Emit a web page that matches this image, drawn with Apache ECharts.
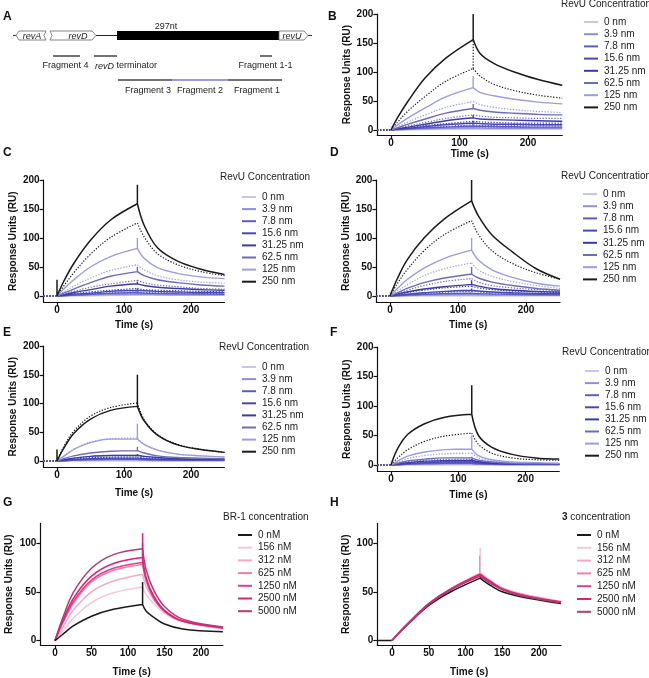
<!DOCTYPE html>
<html><head><meta charset="utf-8">
<script src="https://cdn.jsdelivr.net/npm/echarts@6/dist/echarts.min.js"></script>
<style>html,body{margin:0;padding:0;background:#fff}#c{width:649px;height:678px}</style>
</head><body><div id="c"></div>
<script>
const FONT = 'Liberation Sans, Arial, sans-serif';
// ---------- categories ----------
const revuConc = ['0 nm','3.9 nm','7.8 nm','15.6 nm','31.25 nm','62.5 nm','125 nm','250 nm'];
const revuColors = ['#c6c6ee','#8e8edc','#5c5cc8','#4646b6','#3a3aa8','#6c6cb8','#9c9ce2','#1a1a1a'];
const brConc = ['0 nM','156 nM','312 nM','625 nM','1250 nM','2500 nM','5000 nM'];
const brColors = ['#1a1a1a','#f8c6d8','#f4aac6','#f07eaa','#e63a8c','#df1f7a','#b43a72'];
// ---------- time grids (s) ----------
const timeRevU = [-20,0,10,25,50,80,120,130,150,180,215,250];
const timeBR   = [-20,0,10,25,50,80,120,125,135,150,175,230];
// ---------- tick labels ----------
const xTicksRevU = [0,100,200];
const yTicksRevU = [0,50,100,150,200];
const xTicksBR = [0,50,100,150,200];
const yTicksBR = [0,50,100];
// ---------- panel B (RU) ----------
const B_solid = [
 [null,0,0,0.5,1,1,1.5, 1,1,1,1,1],
 [null,0,0.5,1,2,3,4, 3.5,3,3,3,3],
 [null,0,1,2,3.5,5,7, 6.5,6,5.5,5,5],
 [null,0,1.5,3,6,9,12, 11,10,10,9,9],
 [null,0,2,5,10,16,21, 19,18,17,16,15],
 [null,0,4,10,19,29,37, 34,31,29,27,26],
 [null,0,9,21,38,57,73, 65,59,53,48,45],
 [null,0,22,50,90,124,156, 132,115,100,87,77]];
const B_dotted = [
 [0,0,0,0,0.5,1,1, 1,1,1,1,1],
 [0,0,0.5,1,1.5,2,3, 2.5,2.5,2.5,2,2],
 [0,0,0.5,1,2.5,3.5,5, 4.5,4,4,4,4],
 [0,0,1,2,4,6,9, 8,7.5,7,7,7],
 [0,0,1.5,4,7.5,11,15, 14,13,12,12,12],
 [0,0,3,7,13,20,26, 24,22,21,20,20],
 [0,0,6,14,26,39,49, 44,39,35,32,30],
 [0,0,14,33,58,84,106, 93,79,68,60,55]];
const B_spike = [null,null,null,14,26,45,93,200];
const B_dotSpike = [null,null,null,null,null,null,null,155];
const B_startSpike = [15,null,null,null,null,null,null,null];
// ---------- panel C ----------
const C_solid = [
 [null,0,0,0.5,0.5,1,1, 1,1,1,1,1],
 [null,0,0.5,1,2,2.5,3, 3,2.5,2,2,2],
 [null,0,0.5,1.5,3,4.5,6, 5,4.5,4,3.5,3],
 [null,0,1,3,5,8,10, 9,8,7,6,6],
 [null,0,2,6,11,17,21, 18,15,13,11,10],
 [null,0,5,12,23,34,42, 35,28,23,19,17],
 [null,0,12,28,50,68,82, 65,49,39,33,30],
 [null,0,25,56,96,131,159, 122,83,60,46,37]];
const C_dotted = [
 [0,0,0,0,0.5,0.5,1, 1,1,1,1,1],
 [0,0,0.5,1,1.5,2,2, 2,2,1.5,1.5,1.5],
 [0,0,0.5,1,2,3,4, 3.5,3,3,2.5,2.5],
 [0,0,1,2,4,5.5,7, 6,5.5,5,4.5,4],
 [0,0,1.5,4,7,10,13, 11,10,9,8,7],
 [0,0,3,8,15,21,27, 23,19,16,13,12],
 [0,0,7,17,31,44,54, 45,35,28,24,22],
 [0,0,17,40,72,101,126, 102,73,54,42,35]];
const C_spike = [null,null,null,13,25,50,100,192];
const C_dotSpike = [null,null,null,null,null,null,null,null];
const C_startSpike = [null,null,null,null,null,null,null,28];
// ---------- panel D ----------
const D_solid = [
 [null,0,0,0.2,0.3,0.4,0.5, 0.4,0.3,0.3,0.3,0.3],
 [null,0,0.3,0.8,1.5,2,2.5, 2,1.5,1.5,1,1],
 [null,0,0.5,1.5,3,4,5, 4,3.5,3,2.5,2],
 [null,0,1,3,5.5,8,10, 8.5,7,5.5,4.5,4],
 [null,0,3,7,12,16,20, 17,13,10,8,7],
 [null,0,5,13,23,31,38, 31,24,18,13,10],
 [null,0,12,28,48,65,79, 62,45,32,22,17],
 [null,0,28,62,100,133,164, 138,105,76,47,29]];
const D_dotted = [
 [0,0,0,0,0,0,0.5, 0,0,0,0,0],
 [0,0,0.3,0.5,1,1.5,2, 1.5,1.5,1,1,1],
 [0,0,0.5,1,2.5,3.5,4, 3.5,3,2.5,2,2],
 [0,0,1,2.5,4.5,6.5,8, 7,5.5,4.5,3.5,3],
 [0,0,2,6,10,14,17, 14,11,8.5,7,6],
 [0,0,4,10,18,25,30, 24,18,14,11,9],
 [0,0,8,19,35,47,57, 45,34,25,18,13],
 [0,0,20,45,78,106,130, 106,78,56,40,29]];
const D_spike = [null,null,null,13,27,50,100,200];
const D_dotSpike = [null,null,null,null,null,null,null,null];
const D_startSpike = [10,null,null,null,null,null,null,null];
// ---------- panel E ----------
const E_solid = [
 [null,0,0,0.3,0.5,0.5,0.5, 0.5,0.5,0.5,0.5,0.5],
 [null,0,0.5,1,1.5,2,2, 1.5,1,1,1,1],
 [null,0,0.5,1.5,2.5,3,3, 2.5,2,1.5,1.5,1.5],
 [null,0,1,2.5,4,5,5, 4,3,2.5,2,2],
 [null,0,2,5,8,9.5,10, 8,6,4,3,3],
 [null,0,4,9,14,17,18, 14,9,6,5,4],
 [null,0,8,20,32,38,38, 29,19,12,9,7],
 [null,0,22,48,73,88,95, 70,45,28,20,15]];
const E_dotted = [
 [0,0,0,0,0.3,0.3,0.3, 0.3,0.3,0.3,0.3,0.3],
 [0,0,0.3,0.5,1,1,1, 1,0.5,0.5,0.5,0.5],
 [0,0,0.5,1,1.5,2,2, 1.5,1.5,1,1,1],
 [0,0,0.5,1.5,3,4,4, 3,2.5,2,1.5,1.5],
 [0,0,1,3,5.5,6.5,7, 5.5,4,3,2.5,2],
 [0,0,2,5,8,10,10, 8,6,4,3,3],
 [0,0,9,21,33,39,40, 29,19,12,9,7],
 [0,0,25,52,78,93,101, 72,46,29,20,15]];
const E_spike = [null,null,null,null,12,25,65,150];
const E_dotSpike = [null,null,null,null,null,null,null,null];
const E_startSpike = [null,null,null,null,null,null,null,20];
// ---------- panel F ----------
const F_solid = [
 [null,0,0,0.3,0.3,0.5,0.5, 0.3,0.3,0.3,0.3,0.3],
 [null,0,0.5,1,1.5,2,2, 1.5,1,0.5,0.5,0.5],
 [null,0,0.5,1.5,2.5,3,3, 2,1.5,1,1,1],
 [null,0,1,2.5,4,5,5, 3.5,2.5,1.5,1,1],
 [null,0,2,4,6.5,7.5,8, 5.5,3.5,2,1.5,1.5],
 [null,0,3,7,10,12,12, 8,5,3,2,2],
 [null,0,7,15,22,26,27, 16,9,5,4,3],
 [null,0,28,52,70,81,86, 50,30,18,12,10]];
const F_dotted = [
 [0,0,0,0.2,0.3,0.3,0.3, 0.3,0.2,0.2,0.2,0.2],
 [0,0,0.3,0.5,1,1,1.5, 1,0.5,0.5,0.5,0.5],
 [0,0,0.5,1,2,2,2.5, 1.5,1,1,0.5,0.5],
 [0,0,1,2,3,4,4, 3,2,1,1,1],
 [0,0,1.5,3,5,6,6, 4.5,3,2,1.5,1.5],
 [0,0,2.5,6,8,9.5,10, 7,4,3,2,2],
 [0,0,5,11,16,19,20, 12,7,4,3,2],
 [0,0,12,26,40,49,54, 35,20,12,9,8]];
const F_spike = [null,null,null,null,10,14,50,135];
const F_dotSpike = [null,null,null,null,null,null,null,null];
const F_startSpike = [9,null,null,null,null,null,null,null];
// ---------- panel G (BR-1) ----------
const G_vals = [
 [null,0,6,15,25,32,37, 30,24,17,12,9],
 [null,0,9,23,39,49,55, 47,38,28,19,12],
 [null,0,13,31,50,61,68, 55,42,30,20,12.5],
 [null,0,17,38,60,72,78, 61,44,30,20,13],
 [null,0,18,40,62,74,80, 62,44,30,20,13],
 [null,0,19,43,66,79,85, 64,46,31,20,13.5],
 [null,0,22,49,74,88,94, 72,52,35,22,14]];
const G_spike = [60,null,null,null,100,110,null];
// ---------- panel H (compound 3) ----------
const H_vals = [
 [0,0,8,19,36,50,64, 61,56,50,45,38],
 [null,0,8.5,20,38,53,69, 66,61,54,48,40],
 [null,0,8.5,20,38,53,69, 66,60,54,48,40],
 [null,0,8.5,20,38,53,68, 65,60,53,47,39.5],
 [null,0,8.5,20,37.5,52,67, 64,59,53,47,39],
 [null,0,8.5,20,38,53,68, 65,60,53,47,39.5],
 [null,0,8,19.5,37,52,66, 63,58,52,46,39]];
const H_spike = [87,95,null,null,null,null,null];

// ---------- layout (pixel geometry of each panel) ----------
const panels = [
 {id:'B', x0:391, pps:0.685, y0:130, ppu:0.58, xmin:-20, xmax:250, ymin:-9,  ymax:200, xGap:12, yGap:25},
 {id:'C', x0:57,  pps:0.67,  y0:296, ppu:0.58, xmin:-20, xmax:250, ymin:-11, ymax:200, xGap:18, yGap:25},
 {id:'D', x0:390, pps:0.68,  y0:296, ppu:0.58, xmin:-20, xmax:250, ymin:-11, ymax:200, xGap:18, yGap:25},
 {id:'E', x0:57,  pps:0.67,  y0:461, ppu:0.575,xmin:-20, xmax:250, ymin:-11, ymax:200, xGap:21, yGap:25},
 {id:'F', x0:391, pps:0.673, y0:465, ppu:0.59, xmin:-20, xmax:250, ymin:-11, ymax:200, xGap:19, yGap:25},
 {id:'G', x0:55,  pps:0.73,  y0:641, ppu:0.98, xmin:-20, xmax:230, ymin:-4.5,ymax:120, xGap:22, yGap:26},
 {id:'H', x0:392, pps:0.735, y0:641, ppu:0.98, xmin:-20, xmax:230, ymin:-4.5,ymax:120, xGap:22, yGap:26}
];

function buildCurve(times, vals, spike, startSpike) {
  const d = [];
  if (vals[0] != null) d.push([times[0], vals[0]], [times[1], vals[1]], [times[1], null]);
  if (startSpike != null) d.push([times[1], vals[1]], [times[1], startSpike], [times[1], null]);
  for (let i = 1; i <= 6; i++) d.push([times[i], vals[i]]);
  d.push([times[6], null]);
  if (spike != null) d.push([times[6], vals[6]], [times[6], spike], [times[6], null]);
  for (let i = 6; i < times.length; i++) d.push([times[i], vals[i]]);
  return d;
}

const grids = [], xAxes = [], yAxes = [], series = [], legends = [];
const axisColor = '#111';
panels.forEach((p, k) => {
  grids.push({left: p.x0 + p.xmin * p.pps, width: (p.xmax - p.xmin) * p.pps,
              top: p.y0 - p.ymax * p.ppu, height: (p.ymax - p.ymin) * p.ppu, containLabel:false});
  const isBR = (p.id === 'G' || p.id === 'H');
  xAxes.push({type:'value', gridIndex:k, min:p.xmin, max:p.xmax,
    axisLine:{show:true, onZero:false, lineStyle:{color:axisColor, width:1.2}},
    axisTick:{show:true, length:4, customValues: isBR ? xTicksBR : xTicksRevU, lineStyle:{color:axisColor, width:1.2}},
    axisLabel:{customValues: isBR ? xTicksBR : xTicksRevU, fontSize:10, fontWeight:'bold', fontFamily:FONT, color:axisColor, margin:3},
    splitLine:{show:false},
    name:'Time (s)', nameLocation:'middle', nameGap:p.xGap,
    nameTextStyle:{fontSize:10, fontWeight:'bold', fontFamily:FONT, color:axisColor}});
  yAxes.push({type:'value', gridIndex:k, min:p.ymin, max:p.ymax,
    axisLine:{show:true, onZero:false, lineStyle:{color:axisColor, width:1.2}},
    axisTick:{show:true, length:4, customValues: isBR ? yTicksBR : yTicksRevU, lineStyle:{color:axisColor, width:1.2}},
    axisLabel:{customValues: isBR ? yTicksBR : yTicksRevU, fontSize:10, fontWeight:'bold', fontFamily:FONT, color:axisColor, margin:4},
    splitLine:{show:false},
    name:'Response Units (RU)', nameLocation:'middle', nameGap:p.yGap,
    nameTextStyle:{fontSize:10, fontWeight:'bold', fontFamily:FONT, color:axisColor}});
});

function addLine(k, name, color, data, dotted, width, z) {
  series.push({type:'line', name:name, xAxisIndex:k, yAxisIndex:k, data:data,
    showSymbol:false, symbol:'none', smooth:0.35, connectNulls:false, silent:true, animation:false,
    z: z, itemStyle:{color:color},
    lineStyle:{color:color, width:width, type: dotted ? [1.3, 1.6] : 'solid'}});
}

const revuSets = {B:[B_solid,B_dotted,B_spike,B_dotSpike,B_startSpike], C:[C_solid,C_dotted,C_spike,C_dotSpike,C_startSpike],
                  D:[D_solid,D_dotted,D_spike,D_dotSpike,D_startSpike], E:[E_solid,E_dotted,E_spike,E_dotSpike,E_startSpike],
                  F:[F_solid,F_dotted,F_spike,F_dotSpike,F_startSpike]};
['B','C','D','E','F'].forEach((id) => {
  const k = panels.findIndex(p => p.id === id);
  const [sol, dot, spk, dspk, sspk] = revuSets[id];
  dot.forEach((v, i) => addLine(k, id + '|' + revuConc[i] + ' fit', revuColors[i], buildCurve(timeRevU, v, dspk[i], i === 0 ? sspk[0] : null), true, 1.2, 2 + i * 0.1));
  sol.forEach((v, i) => addLine(k, id + '|' + revuConc[i], revuColors[i], buildCurve(timeRevU, v, spk[i], i > 0 ? sspk[i] : null), false, i === 7 ? 1.5 : 1.4, 3 + i * 0.1));
});
[['G', G_vals, G_spike], ['H', H_vals, H_spike]].forEach(([id, vals, spk]) => {
  const k = panels.findIndex(p => p.id === id);
  const order = id === 'G' ? [1,2,3,4,5,6,0] : [0,1,2,3,4,5,6];
  order.forEach(i => addLine(k, id + '|' + brConc[i], brColors[i], buildCurve(timeBR, vals[i], spk[i], null), false, 1.5, 3 + order.indexOf(i) * 0.1));
});

// ---------- legends ----------
const legendPos = {
  B:{icon:579, row:17,  gap:12.2, title:[561,4]},
  C:{icon:237, row:192, gap:12.1, title:[220,177]},
  D:{icon:578, row:189, gap:12.2, title:[561,176]},
  E:{icon:237, row:362, gap:12.1, title:[219,347]},
  F:{icon:580, row:366, gap:12.1, title:[562,352]},
  G:{icon:233, row:530, gap:12.7, title:[223,517]},
  H:{icon:572, row:530, gap:12.8, title:[562,517]}
};
const legendTitleText = {B:'RevU Concentration', C:'RevU Concentration', D:'RevU Concentration', E:'RevU Concentration', F:'RevU Concentration', G:'BR-1 concentration', H:'{b|3} concentration'};
Object.keys(legendPos).forEach(id => {
  const L = legendPos[id];
  const names = (id === 'G' || id === 'H') ? brConc : revuConc;
  legends.push({orient:'vertical', left:L.icon, top:L.row - 6, itemWidth:14, itemHeight:2, itemGap:L.gap - 12,
    icon:'rect', selectedMode:false, data: names.map(n => id + '|' + n),
    formatter: n => n.split('|')[1],
    textStyle:{fontSize:10, fontFamily:FONT, color:'#222', lineHeight:12, padding:[0,0,0,1]}});
});

// ---------- graphic: panel A + letters + legend titles ----------
const G = [];
function txt(x, y, text, opt) {
  G.push({type:'text', silent:true, style:Object.assign({x:x, y:y, text:text, fontSize:9, fontFamily:FONT, fill:'#222',
    align:'left', verticalAlign:'middle'}, opt || {})});
}
function ln(x1, y1, x2, y2, color, w) {
  G.push({type:'line', silent:true, shape:{x1:x1, y1:y1, x2:x2, y2:y2}, style:{stroke:color, lineWidth:w}});
}
function poly(pts) {
  G.push({type:'polygon', silent:true, shape:{points:pts}, style:{fill:'#fff', stroke:'#666', lineWidth:0.8}});
}
// letters
[['A',3,17],['B',328,17],['C',3,153],['D',330,153],['E',3,333],['F',330,333],['G',3,503],['H',330,503]]
  .forEach(([t,x,y]) => txt(x, y, t, {fontSize:12, fontWeight:'bold', fill:'#111'}));
// legend titles
Object.keys(legendPos).forEach(id => {
  const [x, y] = legendPos[id].title;
  txt(x, y, legendTitleText[id], {fontSize:10, rich:{b:{fontWeight:'bold', fontSize:10, fontFamily:FONT, fill:'#222'}}});
});
// panel A gene map
const gy = 35.5;
ln(13, gy, 17, gy, '#333', 1);
poly([[19,31],[46,31],[44,gy],[46,40],[19,40],[16,gy]]);
poly([[50,31],[92,31],[96,gy],[92,40],[50,40],[52,gy]]);
ln(96, gy, 117, gy, '#222', 1);
G.push({type:'rect', silent:true, shape:{x:117, y:31, width:162, height:9}, style:{fill:'#000'}});
poly([[279,31],[304,31],[308,gy],[304,40],[279,40]]);
ln(308, gy, 312, gy, '#333', 1);
txt(32, 36, 'revA', {align:'center', fontStyle:'italic'});
txt(78, 36, 'revD', {align:'center', fontStyle:'italic'});
txt(292, 36, 'revU', {align:'center', fontStyle:'italic'});
txt(166, 27, '297nt', {align:'center'});
ln(53, 56, 80, 56, '#444', 1.5);
ln(94, 56, 117, 56, '#444', 1.5);
ln(260, 56, 272, 56, '#444', 1.5);
txt(65.5, 66, 'Fragment 4', {align:'center'});
txt(95, 66, '{i|revD} terminator', {rich:{i:{fontStyle:'italic', fontSize:9, fontFamily:FONT, fill:'#222'}}});
txt(265.5, 66, 'Fragment 1-1', {align:'center'});
ln(118, 80, 172, 80, '#444', 1.5);
ln(172, 80, 228, 80, '#7b7bd0', 1.5);
ln(228, 80, 282, 80, '#444', 1.5);
txt(148, 91, 'Fragment 3', {align:'center'});
txt(200, 91, 'Fragment 2', {align:'center'});
txt(257, 91, 'Fragment 1', {align:'center'});

const chart = echarts.init(document.getElementById('c'), null, {renderer:'canvas'});
chart.setOption({animation:false, backgroundColor:'#fff', textStyle:{fontFamily:FONT},
  grid:grids, xAxis:xAxes, yAxis:yAxes, series:series, legend:legends, graphic:G});
</script>
</body></html>
